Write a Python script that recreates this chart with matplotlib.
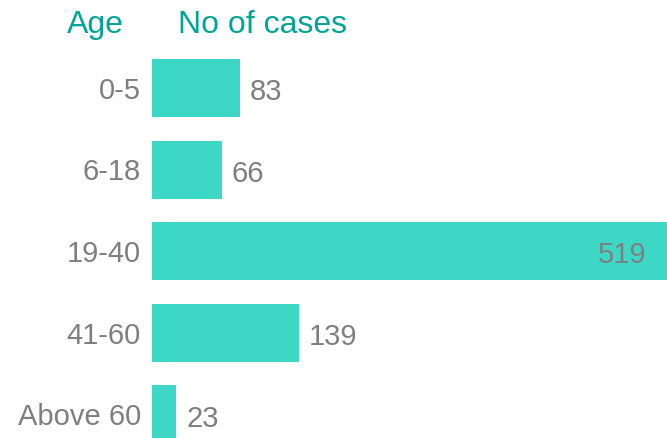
import matplotlib
matplotlib.use('Agg')
import matplotlib.pyplot as plt
import numpy as np

plt.rcParams['font.family'] = ['Liberation Sans', 'DejaVu Sans']

ages = ['0-5', '6-18', '19-40', '41-60', 'Above 60']
cases = [83, 66, 519, 139, 23]

bar_color = '#3dd8c5'
text_gray = '#7f7f7f'
head_teal = '#00a595'

fig = plt.figure(figsize=(6.67, 4.38), dpi=100)
ax = fig.add_axes([152 / 667, 0, 1 - 152 / 667, 1])
ax.patch.set_alpha(0)

y = np.arange(len(ages))
ax.barh(y, cases, height=0.71, color=bar_color)

# x scale: ~1.06 px per case, right edge of picture clips the big bar
ax.set_xlim(0, (667 - 152) / 1.06)
ax.set_ylim(4.29, -1.08)
ax.axis('off')

# value labels
xmax = ax.get_xlim()[1]
for yi, v in zip(y, cases):
    if v > xmax:
        ax.annotate(str(v), xy=(xmax, yi), xytext=(-15, -3), textcoords='offset points',
                    ha='right', va='center', fontsize=21, color=text_gray)
    else:
        ax.annotate(str(v), xy=(v, yi), xytext=(7, -3), textcoords='offset points',
                    ha='left', va='center', fontsize=21, color=text_gray)

# category labels to the left of the bars
for yi, a in zip(y, ages):
    ax.annotate(a, xy=(0, yi), xytext=(-8, -2), textcoords='offset points',
                ha='right', va='center', fontsize=21, color=text_gray,
                annotation_clip=False)

# column headers
fig.text(67 / 667, 1 - 33 / 438, 'Age', fontsize=23, color=head_teal, ha='left', va='baseline')
fig.text(178 / 667, 1 - 33 / 438, 'No of cases', fontsize=23, color=head_teal, ha='left', va='baseline')

plt.savefig('out.png', dpi=100)
